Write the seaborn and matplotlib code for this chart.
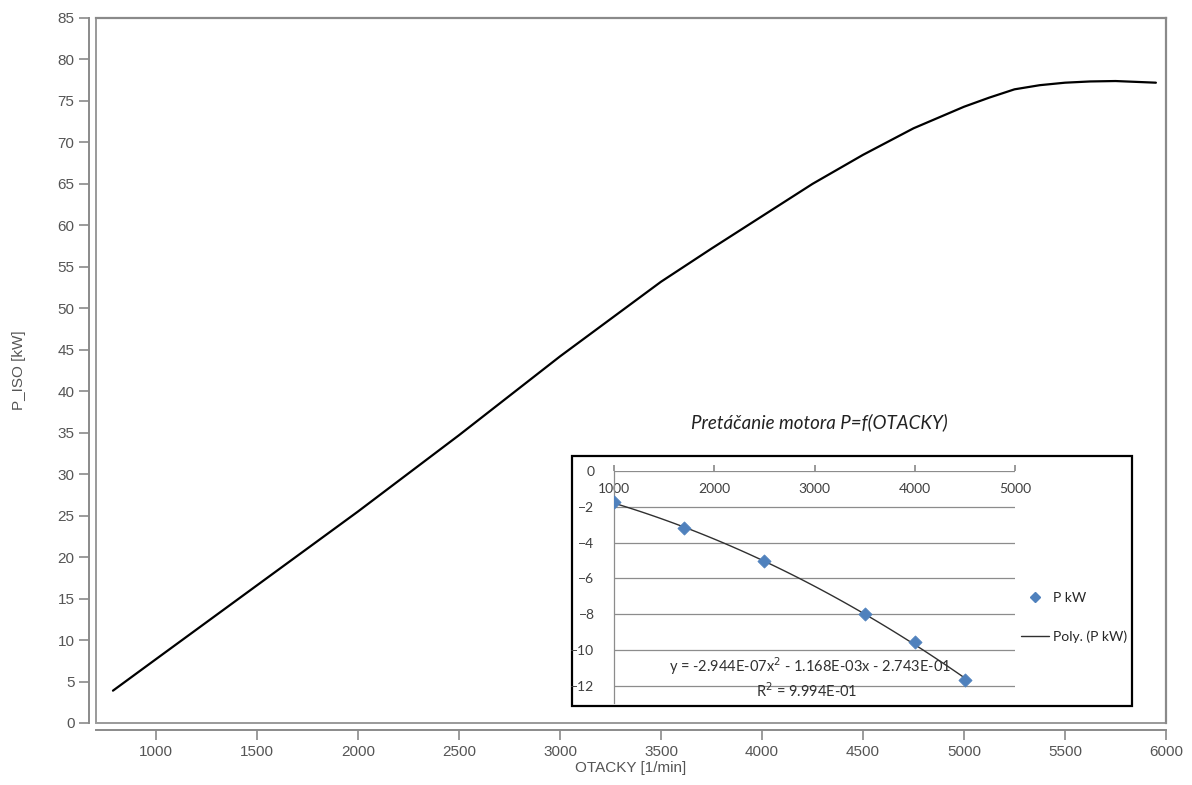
import numpy as np
import pandas as pd
import matplotlib
matplotlib.use("Agg")
import matplotlib.pyplot as plt
from matplotlib.patches import Rectangle
from matplotlib.lines import Line2D
import seaborn as sns

# ---- main curve data ----
rpm = [787, 1000, 1500, 2000, 2500, 3000, 3500, 3750, 4000, 4250, 4500, 4750, 5000, 5125, 5250, 5375, 5500, 5625, 5750, 5950]
p_iso = [3.9, 7.7, 16.6, 25.5, 34.7, 44.2, 53.2, 57.2, 61.1, 65.0, 68.5, 71.7, 74.3, 75.4, 76.4, 76.9, 77.2, 77.35, 77.4, 77.2]
x_ticks = [1000, 1500, 2000, 2500, 3000, 3500, 4000, 4500, 5000, 5500, 6000]
y_ticks = list(range(0, 90, 5))

# ---- inset data ----
ins_rpm = [1000, 1700, 2500, 3500, 4000, 4500]
ins_p = [-1.75, -3.2, -5.05, -8.0, -9.55, -11.65]
ins_x_ticks = [1000, 2000, 3000, 4000, 5000]
ins_y_ticks = [0, -2, -4, -6, -8, -10, -12]

sns.set_theme(style="white")
plt.rcParams['font.family'] = ['Liberation Sans', 'DejaVu Sans']

W, H = 1192, 785
fig = plt.figure(figsize=(W / 100, H / 100), dpi=100)

ax = fig.add_axes([96 / W, 1 - 723 / H, (1166 - 96) / W, (723 - 18) / H])
sns.lineplot(x=rpm, y=p_iso, ax=ax, color='black', lw=1.6, sort=False)
ax.set_xlim(703, 6000)
ax.set_ylim(0, 85)
ax.set_xticks(x_ticks)
ax.set_yticks(y_ticks)
for s in ['top', 'right']:
    ax.spines[s].set_color('#8a8a8a')
    ax.spines[s].set_linewidth(1.6)
for s in ['left', 'bottom']:
    ax.spines[s].set_color('#8a8a8a')
    ax.spines[s].set_linewidth(1.4)
    ax.spines[s].set_position(('outward', 5))
ax.add_patch(Rectangle((0, 0), 1, 1, transform=ax.transAxes, fill=False,
                       edgecolor='#9a9a9a', lw=1.4, clip_on=False, zorder=0))
ax.tick_params(axis='both', colors='#8a8a8a', labelcolor='#555555', labelsize=11,
               length=7, width=1.2, direction='out', left=True, bottom=True)
ax.set_xlabel('OTACKY [1/min]', color='#555555', fontsize=11, labelpad=2)
ax.set_ylabel('P_ISO [kW]', color='#555555', fontsize=11, labelpad=23)

# ---- inset box and title ----
fig.patches.append(Rectangle((572 / W, 1 - 706 / H), (1132 - 572) / W, (706 - 456) / H,
                             transform=fig.transFigure, fill=True, facecolor='white',
                             edgecolor='black', lw=1.6, zorder=5))
fig.text(819 / W, 1 - 422 / H, 'Pretáčanie motora P=f(OTACKY)', ha='center', va='center',
         fontsize=13.5, style='italic', family=['Lato', 'DejaVu Sans'], color='#222222')

ifont = ['Lato', 'DejaVu Sans']
iax = fig.add_axes([614 / W, 1 - 703 / H, (1015 - 614) / W, (703 - 471) / H], zorder=6)
iax.patch.set_alpha(0)
iax.set_xlim(1000, 5000)
iax.set_ylim(-12.95, 0)
for yt in ins_y_ticks:
    iax.axhline(yt, color='#8c8c8c', lw=0.9, zorder=0)
sns.regplot(x=ins_rpm, y=ins_p, order=2, ci=None, scatter=False, ax=iax,
            line_kws=dict(color='#303030', lw=1.0))
sns.scatterplot(x=ins_rpm, y=ins_p, ax=iax, marker='D', s=45, color='#4F81BD',
                edgecolor='#4F81BD', zorder=4)
iax.set_xticks(ins_x_ticks)
iax.set_yticks(ins_y_ticks)
iax.xaxis.tick_top()
iax.tick_params(axis='x', top=True, direction='out', length=4, color='#8c8c8c',
                pad=-21, labelsize=10, labelcolor='#404040')
iax.tick_params(axis='y', left=True, length=0, pad=14, labelsize=10, labelcolor='#404040')
for lab in iax.get_yticklabels() + iax.get_xticklabels():
    lab.set_family(ifont)
for s in ['top', 'right', 'bottom']:
    iax.spines[s].set_visible(False)
iax.spines['left'].set_color('#8c8c8c')
iax.spines['left'].set_linewidth(0.9)
iax.set_xlabel('')
iax.set_ylabel('')

iax.text(0.49, 0.16, 'y = -2.944E-07x$^{2}$ - 1.168E-03x - 2.743E-01', transform=iax.transAxes,
         ha='center', va='center', fontsize=10.5, color='#303030', family=ifont)
iax.text(0.48, 0.055, 'R$^{2}$ = 9.994E-01', transform=iax.transAxes,
         ha='center', va='center', fontsize=10.5, color='#303030', family=ifont)

handles = [Line2D([], [], marker='D', ls='none', color='#4F81BD', markersize=5.5),
           Line2D([], [], color='#303030', lw=1.0)]
iax.legend(handles, ['P kW', 'Poly. (P kW)'], loc='center left', bbox_to_anchor=(0.985, 0.37),
           frameon=False, labelspacing=1.9, handlelength=2.0, handletextpad=0.3,
           prop={'family': ifont, 'size': 10})

fig.savefig('out.png', dpi=100, facecolor='white')
